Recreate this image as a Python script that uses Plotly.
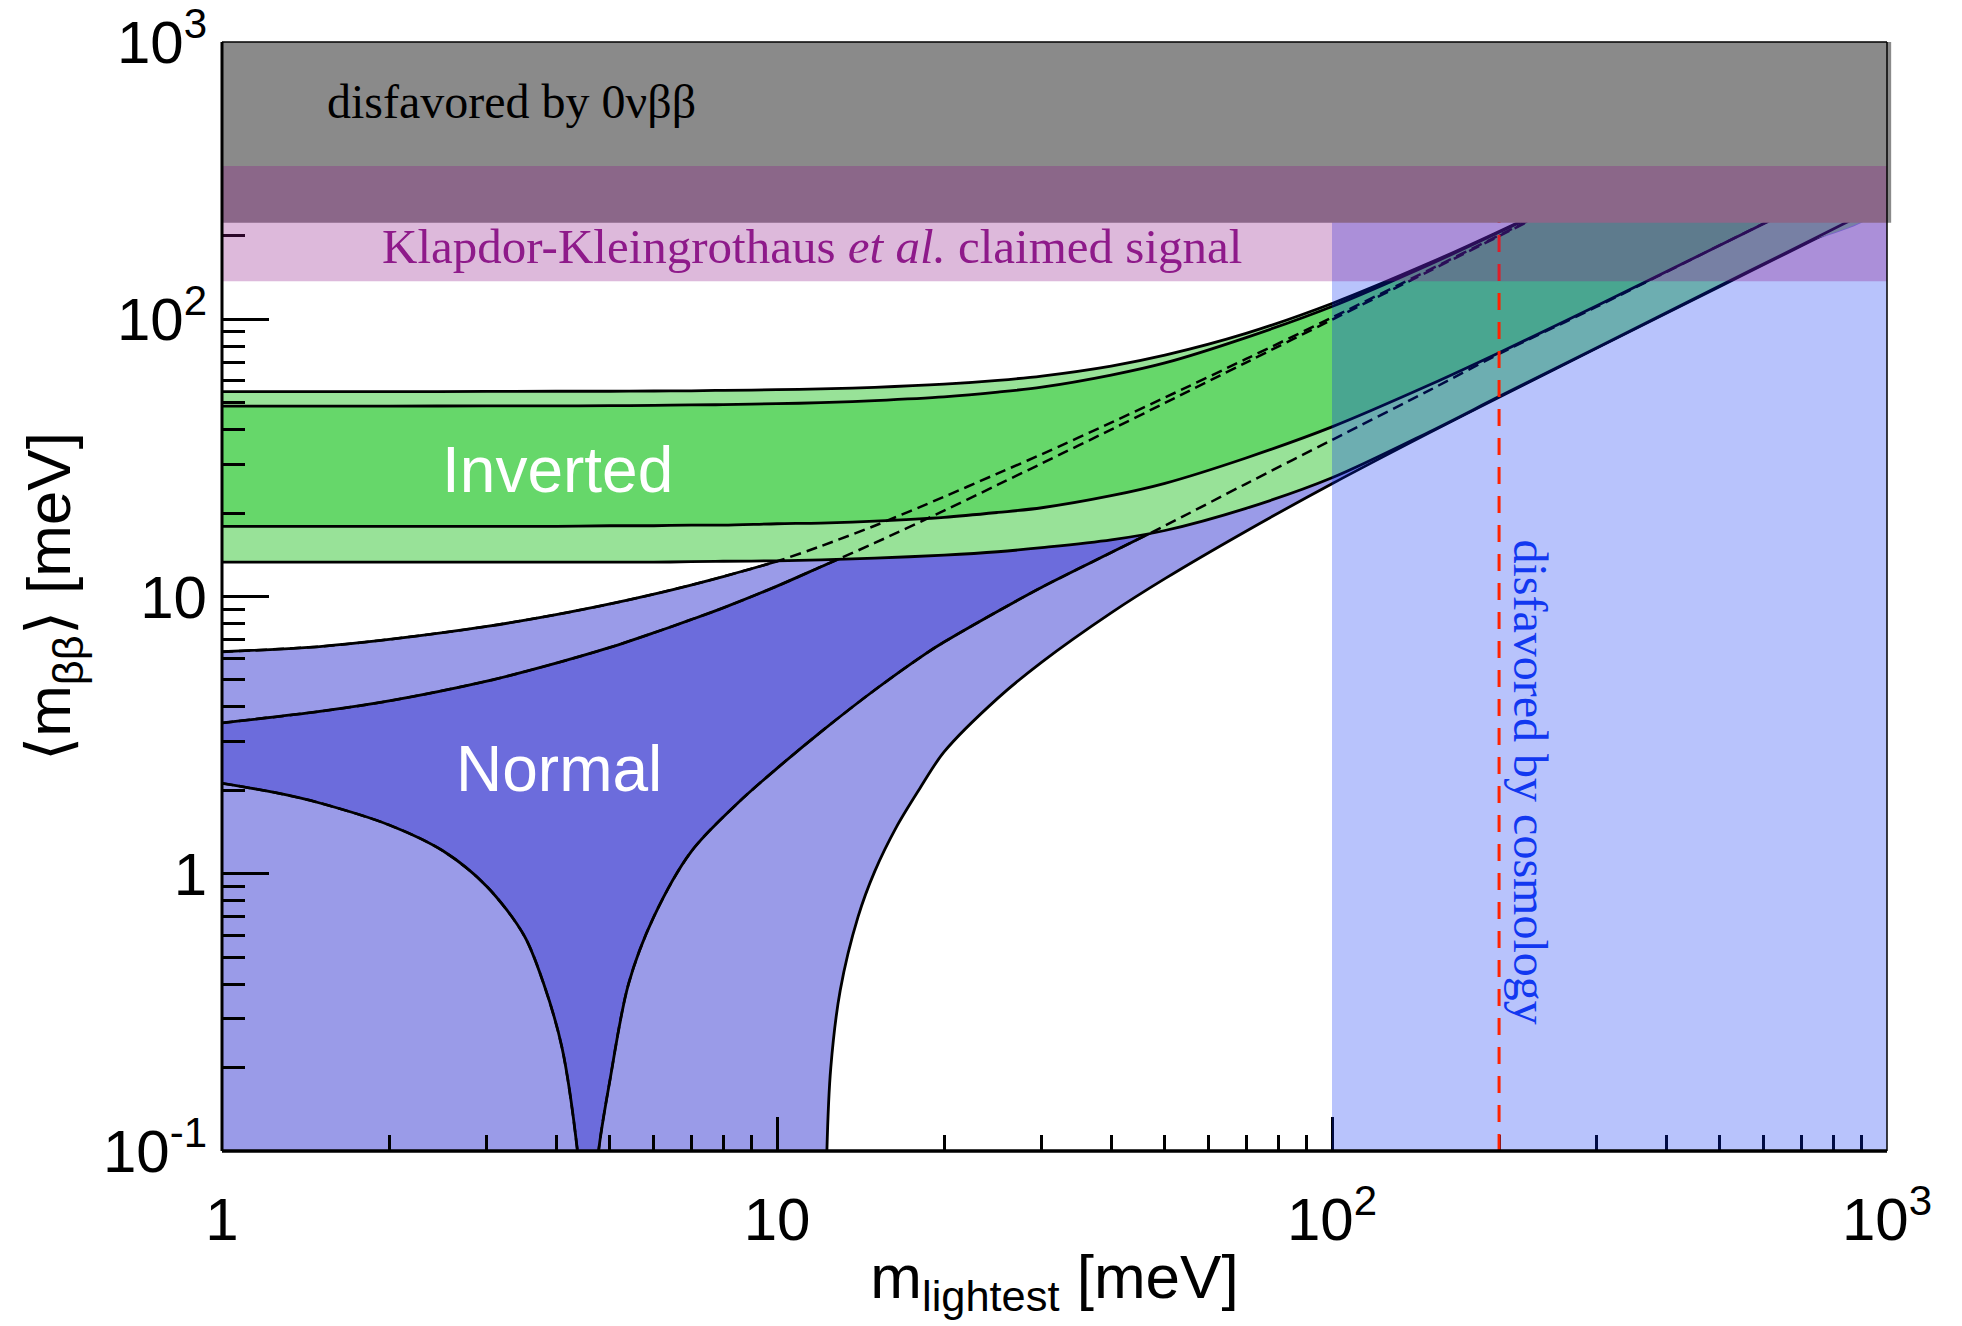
import math
import plotly.graph_objects as go

# ---------------- data ----------------
# lightest neutrino mass grid [meV]
m_grid = [1, 1.5, 2, 3, 4, 5, 6, 7, 8, 10, 12, 15, 20, 25, 30, 40, 50, 70,
          100, 150, 200, 300, 500, 700, 1000]

# Inverted hierarchy band edges <m_bb> [meV]
inv_outer_upper = [54.8, 54.8, 54.8, 54.9, 55.0, 55.0, 55.1, 55.2, 55.4, 55.7, 56.1, 56.8, 58.3,
                   60.2, 62.4, 67.8, 74.2, 88.9, 114, 159.7, 207.4, 305, 503, 702, 1001.5]
inv_inner_upper = [48.6, 48.6, 48.6, 48.7, 48.7, 48.8, 48.9, 49.1, 49.2, 49.6, 50.0, 50.9, 52.5,
                   54.6, 56.9, 62.9, 69.6, 85.9, 111.2, 157.7, 205.8, 303.9, 502.4, 701.7, 1001.2]
inv_inner_lower = [17.9, 17.9, 17.9, 17.9, 17.9, 18.0, 18.0, 18.1, 18.1, 18.3, 18.4, 18.7, 19.3,
                   20.1, 20.9, 23.1, 25.6, 31.6, 40.9, 58.0, 75.7, 111.8, 184.9, 258.2, 368.4]
inv_outer_lower = [13.3, 13.3, 13.3, 13.3, 13.3, 13.3, 13.3, 13.35, 13.4, 13.45, 13.55, 13.75, 14.1,
                   14.5, 15.0, 16.0, 17.3, 20.8, 26.8, 39.3, 52.6, 79, 132, 185, 265]

# Normal hierarchy band edges <m_bb> [meV]
nor_outer_upper = [6.32, 6.6, 7.0, 7.8, 8.6, 9.4, 10.2, 11.0, 11.8, 13.4, 15.2, 18.0, 22.9,
                   27.8, 32.6, 42.4, 52.2, 71.9, 101.4, 151, 200.8, 300.6, 500.5, 700.5, 1000.5]
nor_inner_upper = [3.5, 3.85, 4.2, 4.95, 5.75, 6.55, 7.4, 8.25, 9.1, 10.9, 12.8, 15.6, 20.4,
                   25.3, 30.2, 40.0, 49.9, 69.8, 99.6, 149.5, 199.5, 299.5, 499.5, 699.5, 999.5]

nor_inner_lower_m = [1, 1.25, 1.5, 2, 2.5, 3, 3.5, 3.8, 4.1, 4.37, 4.5, 4.57, 4.65, 4.77, 5.0,
                     5.4, 6.0, 7, 8.5, 10, 12, 15, 18.6, 20, 25, 30, 40, 50, 70, 100, 150, 200,
                     300, 500, 700, 1000]
nor_inner_lower = [2.12, 1.96, 1.80, 1.50, 1.21, 0.90, 0.60, 0.40, 0.235, 0.10, 0.05, 0.005,
                   0.05, 0.10, 0.18, 0.40, 0.70, 1.20, 1.80, 2.40, 3.25, 4.60, 6.25, 6.85,
                   8.85, 10.8, 14.4, 18.0, 25.5, 36.7, 55.5, 75.0, 111, 185, 258, 368]

nor_outer_lower_m = [1, 12.15, 12.3, 12.5, 13, 14, 15, 16.4, 18, 20, 25, 30, 40, 50, 70, 100,
                     150, 200, 300, 500, 700, 1000]
nor_outer_lower = [0.005, 0.005, 0.1, 0.2, 0.38, 0.70, 1.02, 1.47, 2.0, 2.75, 4.3, 5.8, 8.73,
                   11.6, 17.2, 25.5, 39.0, 52.3, 78.7, 131.2, 183.7, 262.4]

# Excluded / claimed regions
onbb_limit = 223            # disfavored by 0vbb above this <m_bb>
kk_low, kk_high = 137, 357  # Klapdor-Kleingrothaus claimed signal
cosmo_limit = 100           # disfavored by cosmology above this m_lightest
cosmo_line = 200            # red dashed line

# axis ticks
x_tickvals = [1, 10, 100, 1000]
x_ticktext = ["1", "10", "10<sup>2</sup>", "10<sup>3</sup>"]
y_tickvals = [0.1, 1, 10, 100, 1000]
y_ticktext = ["10<sup>-1</sup>", "1", "10", "10<sup>2</sup>", "10<sup>3</sup>"]
x_minor = [k * 10 ** d for d in range(0, 3) for k in range(2, 10)]
y_minor = [k * 10.0 ** d for d in range(-1, 3) for k in range(2, 10)]

# label positions (data units)
inv_label = (4.02, 28.7)
nor_label = (4.04, 2.39)
onbb_label = (3.32, 612)
kk_label = (11.56, 183)
cosmo_label = (228, 2.14)

# ---------------- styling ----------------
SANS = "Liberation Sans, Arial, Helvetica, sans-serif"
SERIF = "Liberation Serif, Times New Roman, serif"
LIGHT_BLUE = "rgb(154,155,232)"
DARK_BLUE = "rgb(108,108,220)"
LIGHT_GREEN = "rgb(152,226,152)"
DARK_GREEN = "rgb(102,215,106)"
LW = 2.8
SMOOTH = 0.9

fig = go.Figure()


def band(xu, yu, xl, yl, color):
    fig.add_trace(go.Scatter(
        x=list(xu) + list(xl)[::-1], y=list(yu) + list(yl)[::-1],
        mode="lines", fill="toself", fillcolor=color,
        line=dict(width=0, color=color, shape="spline", smoothing=SMOOTH),
        hoverinfo="skip", showlegend=False))


def curve(x, y, dash="solid", width=LW):
    fig.add_trace(go.Scatter(
        x=x, y=y, mode="lines",
        line=dict(color="black", width=width, dash=dash, shape="spline", smoothing=SMOOTH),
        hoverinfo="skip", showlegend=False))


# Normal hierarchy
band(m_grid, nor_outer_upper, nor_outer_lower_m, nor_outer_lower, LIGHT_BLUE)
band(m_grid, nor_inner_upper, nor_inner_lower_m, nor_inner_lower, DARK_BLUE)
curve(m_grid, nor_outer_upper)
curve(m_grid, nor_inner_upper)
curve(nor_inner_lower_m, nor_inner_lower)
curve(nor_outer_lower_m, nor_outer_lower)

# Inverted hierarchy
band(m_grid, inv_outer_upper, m_grid, inv_outer_lower, LIGHT_GREEN)
band(m_grid, inv_inner_upper, m_grid, inv_inner_lower, DARK_GREEN)
for yy in (inv_outer_upper, inv_inner_upper, inv_inner_lower, inv_outer_lower):
    curve(m_grid, yy)

# Normal hierarchy edges seen through the inverted band (dashed)
DASH = "11px,6px"
curve(m_grid, nor_outer_upper, dash=DASH, width=2.5)
curve(m_grid, nor_inner_upper, dash=DASH, width=2.5)
curve(nor_inner_lower_m, nor_inner_lower, dash=DASH, width=2.5)

shapes = [
    dict(type="rect", xref="x", yref="y", x0=cosmo_limit, x1=1000, y0=0.1, y1=1000,
         fillcolor="rgba(0,40,245,0.28)", line=dict(width=0), layer="above"),
    dict(type="line", xref="x", yref="y", x0=cosmo_line, x1=cosmo_line, y0=0.1, y1=1000,
         line=dict(color="rgb(255,34,0)", width=3, dash="17px,12px"), layer="above"),
    dict(type="rect", xref="paper", yref="y", x0=0, x1=1.0025, y0=onbb_limit, y1=1000,
         fillcolor="rgb(138,138,138)", line=dict(width=0), layer="above"),
    dict(type="rect", xref="x", yref="y", x0=1, x1=1000, y0=kk_low, y1=kk_high,
         fillcolor="rgba(142,22,135,0.3)", line=dict(width=0), layer="above"),
    # frame
    dict(type="line", xref="paper", yref="paper", x0=0, x1=0, y0=0, y1=1,
         line=dict(color="black", width=3), layer="above"),
    dict(type="line", xref="paper", yref="paper", x0=0, x1=1, y0=0, y1=0,
         line=dict(color="black", width=3.5), layer="above"),
    dict(type="line", xref="paper", yref="paper", x0=0, x1=1, y0=1, y1=1,
         line=dict(color="black", width=1.5), layer="above"),
    dict(type="line", xref="paper", yref="paper", x0=1, x1=1, y0=0, y1=1,
         line=dict(color="black", width=1.5), layer="above"),
]

annotations = [
    dict(text="Inverted", x=math.log10(inv_label[0]), y=math.log10(inv_label[1]),
         xref="x", yref="y", showarrow=False, font=dict(family=SANS, size=64, color="white")),
    dict(text="Normal", x=math.log10(nor_label[0]), y=math.log10(nor_label[1]),
         xref="x", yref="y", showarrow=False, font=dict(family=SANS, size=64, color="white")),
    dict(text="disfavored by 0νββ", x=math.log10(onbb_label[0]), y=math.log10(onbb_label[1]),
         xref="x", yref="y", showarrow=False, font=dict(family=SERIF, size=48, color="black")),
    dict(text="Klapdor-Kleingrothaus <i>et al.</i> claimed signal",
         x=math.log10(kk_label[0]), y=math.log10(kk_label[1]),
         xref="x", yref="y", showarrow=False,
         font=dict(family=SERIF, size=49, color="rgb(142,26,138)")),
    dict(text="disfavored by cosmology", x=math.log10(cosmo_label[0]), y=math.log10(cosmo_label[1]),
         xref="x", yref="y", showarrow=False, textangle=90,
         font=dict(family=SERIF, size=48, color="rgb(18,56,240)")),
]

fig.update_layout(
    width=1962, height=1326,
    margin=dict(l=222, r=75, t=42, b=175, autoexpand=False),
    paper_bgcolor="white", plot_bgcolor="white",
    showlegend=False,
    shapes=shapes, annotations=annotations,
    xaxis=dict(
        type="log", range=[0, 3], showgrid=False, zeroline=False, showline=False,
        automargin=False,
        tickmode="array", tickvals=x_tickvals, ticktext=x_ticktext,
        ticks="inside", ticklen=34, tickwidth=3, tickcolor="black",
        ticklabelstandoff=28, ticklabeloverflow="allow",
        tickfont=dict(family=SANS, size=60, color="black"),
        minor=dict(tickmode="array", tickvals=x_minor, ticks="inside", ticklen=16,
                   tickwidth=2.5, tickcolor="black", showgrid=False),
        title=dict(text="m<sub>lightest</sub> [meV]", standoff=2,
                   font=dict(family=SANS, size=62, color="black")),
    ),
    yaxis=dict(
        type="log", range=[-1, 3], showgrid=False, zeroline=False, showline=False,
        automargin=False,
        tickmode="array", tickvals=y_tickvals, ticktext=y_ticktext,
        ticks="inside", ticklen=47, tickwidth=3, tickcolor="black",
        ticklabelstandoff=14, ticklabeloverflow="allow",
        tickfont=dict(family=SANS, size=60, color="black"),
        minor=dict(tickmode="array", tickvals=y_minor, ticks="inside", ticklen=23,
                   tickwidth=2.5, tickcolor="black", showgrid=False),
        title=dict(text="⟨m<sub>ββ</sub>⟩ [meV]", standoff=12,
                   font=dict(family=SANS, size=62, color="black")),
    ),
)

fig.write_html("out.html")
